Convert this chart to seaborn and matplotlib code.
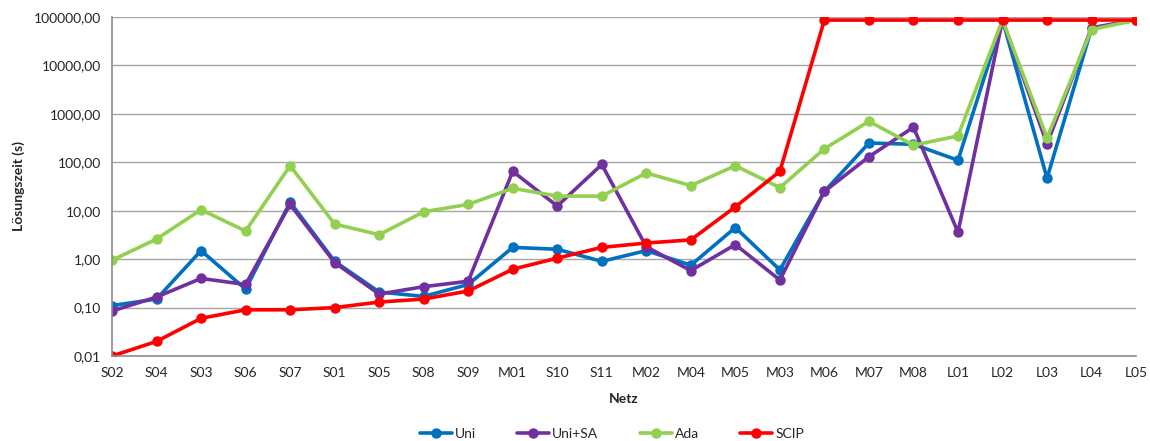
import matplotlib
matplotlib.use("Agg")
import matplotlib.pyplot as plt
import matplotlib.ticker as mticker
import numpy as np
import pandas as pd
import seaborn as sns

# Netze in der dargestellten Reihenfolge
netze = ["S02", "S04", "S03", "S06", "S07", "S01", "S05", "S08", "S09", "M01",
         "S10", "S11", "M02", "M04", "M05", "M03", "M06", "M07", "M08", "L01",
         "L02", "L03", "L04", "L05"]

# Lösungszeiten in Sekunden (86400 s = Zeitlimit)
uni = [0.11, 0.15, 1.5, 0.24, 15, 0.9, 0.21, 0.17, 0.3, 1.75,
       1.6, 0.9, 1.5, 0.75, 4.5, 0.6, 25, 250, 235, 110,
       86400, 47, 58000, 86400]
uni_sa = [0.085, 0.165, 0.4, 0.3, 13.5, 0.85, 0.19, 0.27, 0.35, 65,
          12.5, 90, 1.8, 0.58, 2.0, 0.37, 25, 130, 530, 3.6,
          86400, 240, 60000, 86400]
ada = [0.95, 2.6, 10.5, 3.8, 85, 5.3, 3.2, 9.5, 13.5, 29,
       20, 20, 60, 33, 85, 30, 190, 700, 225, 350,
       86400, 320, 55000, 86400]
scip = [0.01, 0.02, 0.06, 0.09, 0.09, 0.1, 0.13, 0.15, 0.22, 0.62,
        1.05, 1.75, 2.15, 2.5, 12, 65, 86400, 86400, 86400, 86400,
        86400, 86400, 86400, 86400]

serien = ["Uni", "Uni+SA", "Ada", "SCIP"]
farben = ["#0070C0", "#7030A0", "#92D050", "#FF0000"]

df = pd.DataFrame({
    "Netz": netze * 4,
    "Zeit": uni + uni_sa + ada + scip,
    "Verfahren": [s for s in serien for _ in netze],
})

sns.set_theme(style="white")
plt.rcParams["font.family"] = ["Lato", "DejaVu Sans"]

fig = plt.figure(figsize=(11.5, 4.41), dpi=100)
ax = fig.add_axes([0.0974, 0.1927, 0.8905, 0.7688])

sns.lineplot(data=df, x="Netz", y="Zeit", hue="Verfahren", hue_order=serien,
             palette=farben, marker="o", markersize=7.5, markeredgewidth=0,
             linewidth=2.6, sort=False, ax=ax, legend=False)

ax.set_yscale("log")
ax.set_ylim(0.01, 100000)
ax.set_xlim(0, len(netze) - 1)
ax.yaxis.set_major_locator(mticker.LogLocator(base=10, numticks=20))
ax.yaxis.set_minor_locator(mticker.NullLocator())
ax.yaxis.set_major_formatter(
    mticker.FuncFormatter(lambda v, p: f"{v:.2f}".replace(".", ",")))
ax.set_xticks(range(len(netze)))
ax.set_xticklabels(netze)

ax.grid(axis="y", color="#A6A6A6", linewidth=1.0)
ax.set_axisbelow(True)
for side in ["top", "right"]:
    ax.spines[side].set_visible(False)
for side in ["left", "bottom"]:
    ax.spines[side].set_color("#8C8C8C")
    ax.spines[side].set_linewidth(1.2)

ax.tick_params(axis="x", which="major", direction="out", length=5,
               color="#8C8C8C", width=1, labelsize=10, pad=3)
ax.tick_params(axis="y", which="major", length=5, direction="out",
               color="#8C8C8C", width=1, labelsize=10, pad=3)

ax.set_xlabel("Netz", fontsize=10, fontweight="bold", labelpad=10)
ax.set_ylabel("Lösungszeit (s)", fontsize=10, fontweight="bold", labelpad=6)

handles = [plt.Line2D([], [], color=c, marker="o", markersize=7.5,
                      markeredgewidth=0, linewidth=2.6) for c in farben]
fig.legend(handles, serien, loc="lower center", ncol=4, frameon=False,
           bbox_to_anchor=(0.532, -0.025), fontsize=10, handlelength=2.3,
           handletextpad=0.2, columnspacing=3.0)

fig.savefig("out.png", dpi=100)
